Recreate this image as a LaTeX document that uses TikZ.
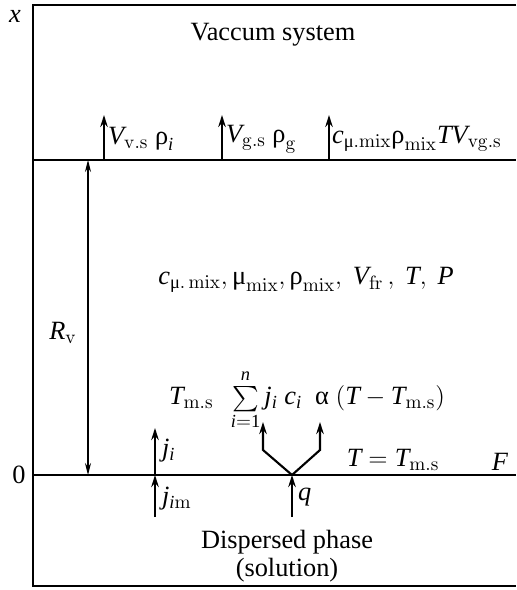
\documentclass[tikz,border=0pt]{standalone}
\usepackage{amsmath}
\usepackage{mathspec}
\setmainfont{Liberation Serif}
\setmathsfont(Digits,Latin){Liberation Serif}
\usepackage{tikz}
\usetikzlibrary{arrows.meta,positioning}
\newcommand{\urho}{\text{ρ}}
\newcommand{\umu}{\text{μ}}
\newcommand{\ualpha}{\text{α}}
\newcommand{\ms}{\mathrm{m.s}}

\begin{document}
\begin{tikzpicture}[x=0.02cm, y=-0.02cm,
  every node/.style={font=\fontsize{15}{18}\selectfont, inner sep=1pt},
  wall/.style={line width=1.1pt},
  flux/.style={line width=1.2pt, -{Stealth[length=2.4mm, width=1.5mm]}},
  gap/.style={line width=0.6pt, {Stealth[length=2.4mm, width=1.2mm]}-{Stealth[length=2.4mm, width=1.2mm]}}]
\useasboundingbox (0,0) rectangle (516,590);

% frame and interfaces
\draw[wall] (516,5) -- (33,5) -- (33,586) -- (516,586);
\draw[wall] (33,160) -- (516,160);
\draw[wall] (33,475) -- (516,475);

\node (x) at (15,16) {$x$};
\node (zero) at (19,475) {0};
\node (F) at (500,462) {$F$};
\node (vac) at (273,35) {Vaccum system};

% fluxes into the vacuum system
\coordinate (vs0) at (104,160); \coordinate (vs1) at (104,115);
\coordinate (gs0) at (222,160); \coordinate (gs1) at (222,115);
\coordinate (mx0) at (329,160); \coordinate (mx1) at (329,115);
\draw[flux] (vs0) -- (vs1);
\draw[flux] (gs0) -- (gs1);
\draw[flux] (mx0) -- (mx1);
\node[anchor=west] (vslab) at (106,139) {$V_{\mathrm{v.s}}\ \urho_i$};
\node[anchor=west] (gslab) at (224,139) {$V_{\mathrm{g.s}}\ \urho_{\mathrm{g}}$};
\node[anchor=west] (mxlab) at (330,139) {$c_{\umu.\mathrm{mix}}\urho_{\mathrm{mix}}TV_{\mathrm{vg.s}}$};

% radius of the vapour zone
\coordinate (rv0) at (88,160); \coordinate (rv1) at (88,475);
\draw[gap] (rv0) -- (rv1);
\node (rv) at (63,333) {$R_{\mathrm{v}}$};

\node (mid) at (306,280) {$c_{\umu.\,\mathrm{mix}},\umu_{\mathrm{mix}},\urho_{\mathrm{mix}},\ V_{\mathrm{fr}}\,,\ T,\ P$};
\node (sum) at (307,400) {$T_{\ms}\ \ \sum\limits_{i=1}^{n} j_i\ c_i\ \ \ualpha\ (T - T_{\ms})$};
\node (teq) at (393,460) {$T = T_{\ms}$};

% fluxes at the surface
\coordinate (ji0) at (155,475); \coordinate (ji1) at (155,428);
\coordinate (jm0) at (155,517);
\draw[flux] (ji0) -- (ji1);
\draw[flux] (jm0) -- (ji0);
\node[anchor=west] (jilab) at (160,451) {$j_i$};
\node[anchor=west] (jmlab) at (160,499) {$j_{i\mathrm{m}}$};

\coordinate (q0) at (292,475); \coordinate (q1) at (292,517);
\coordinate (kl) at (263,450); \coordinate (kr) at (320,450);
\coordinate (al) at (263,422); \coordinate (ar) at (320,422);
\draw[flux] (q1) -- (q0);
\draw[flux] (q0) -- (kl) -- (al);
\draw[flux] (q0) -- (kr) -- (ar);
\node[anchor=west] (qlab) at (296,497) {$q$};

\node (disp) at (287,542) {Dispersed phase};
\node (sol) at (287,570) {(solution)};
\end{tikzpicture}
\end{document}
